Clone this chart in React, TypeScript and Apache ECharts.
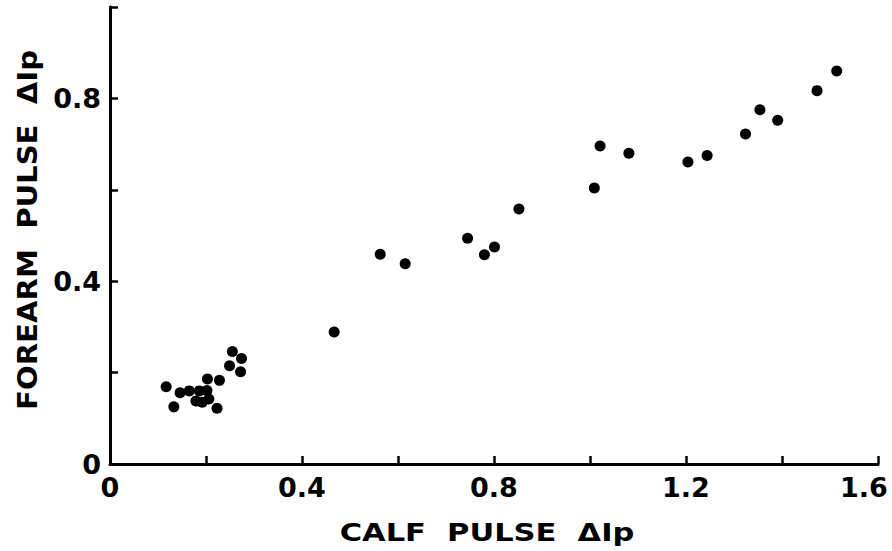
import React, { useEffect, useRef } from "react";
import * as echarts from "echarts";

// Calf pulse ΔIp (x) vs forearm pulse ΔIp (y)
const calfPulse: number[] = [
  0.117, 0.133, 0.146, 0.165, 0.179, 0.186, 0.192, 0.202, 0.203, 0.206,
  0.223, 0.228, 0.249, 0.255, 0.272, 0.274,
  0.467, 0.563, 0.615, 0.745, 0.780, 0.801, 0.852, 1.009, 1.021, 1.081,
  1.204, 1.244, 1.324, 1.354, 1.391, 1.473, 1.514,
];
const forearmPulse: number[] = [
  0.169, 0.125, 0.156, 0.160, 0.138, 0.160, 0.135, 0.161, 0.186, 0.142,
  0.122, 0.183, 0.215, 0.246, 0.202, 0.231,
  0.289, 0.459, 0.438, 0.494, 0.458, 0.475, 0.558, 0.604, 0.696, 0.680,
  0.661, 0.675, 0.722, 0.775, 0.752, 0.817, 0.860,
];

const xTickLabels: string[] = ["0", "0.4", "0.8", "1.2", "1.6"];
const yTickLabels: string[] = ["0", "0.4", "0.8"];
const xTitle = "CALF  PULSE  ΔIp";
const yTitle = "FOREARM  PULSE  ΔIp";

const FONT = "'DejaVu Sans', sans-serif";
const LABEL_SIZE = 27;

function fmt(labels: string[], edgeLabel?: string) {
  return (v: number) => {
    const s = Math.abs(v) < 1e-9 ? "0" : v.toFixed(1);
    if (!labels.includes(s)) return "";
    return s === edgeLabel ? `{edge|${s}}` : s;
  };
}

export default function App() {
  const ref = useRef<HTMLDivElement>(null);
  useEffect(() => {
    if (!ref.current) return;
    const chart = echarts.init(ref.current, undefined, { renderer: "svg" });
    const points = calfPulse.map((x, i) => [x, forearmPulse[i]]);
    const labelFont = {
      color: "#000",
      fontFamily: FONT,
      fontWeight: "bold" as const,
      fontSize: LABEL_SIZE,
    };
    const axisCommon = {
      type: "value" as const,
      axisLine: { show: true, lineStyle: { color: "#000", width: 3 } },
      axisTick: { show: true, inside: true, length: 8, lineStyle: { color: "#000", width: 2.5 } },
      splitLine: { show: false },
      axisLabel: {
        ...labelFont,
        showMinLabel: true,
        showMaxLabel: true,
        hideOverlap: false,
      },
    };
    chart.setOption({
      animation: false,
      backgroundColor: "#fff",
      grid: {
        left: 110,
        right: 14,
        top: 7,
        bottom: 87,
        containLabel: false,
        outerBoundsMode: "none",
      },
      xAxis: {
        ...axisCommon,
        min: 0,
        max: 1.6,
        interval: 0.2,
        axisLabel: {
          ...axisCommon.axisLabel,
          margin: 10,
          formatter: fmt(xTickLabels, "1.6"),
          rich: { edge: { ...labelFont, padding: [0, 28, 0, 0] } },
        },
      },
      yAxis: {
        ...axisCommon,
        min: 0,
        max: 1.0,
        interval: 0.2,
        axisLabel: { ...axisCommon.axisLabel, margin: 9, formatter: fmt(yTickLabels) },
      },
      series: [
        {
          type: "scatter",
          data: points,
          symbol: "circle",
          symbolSize: 11,
          itemStyle: { color: "#000", opacity: 1 },
        },
      ],
      graphic: [
        {
          type: "text",
          x: 487,
          y: 533,
          scaleX: 1.27,
          style: {
            text: xTitle,
            fontFamily: FONT,
            fontWeight: "bold",
            fontSize: 24,
            fill: "#000",
            align: "center",
            verticalAlign: "middle",
            textAlign: "center",
            textVerticalAlign: "middle",
          },
        },
        {
          type: "text",
          x: 28,
          y: 230,
          rotation: Math.PI / 2,
          scaleX: 1.12,
          style: {
            text: yTitle,
            fontFamily: FONT,
            fontWeight: "bold",
            fontSize: 26,
            fill: "#000",
            align: "center",
            verticalAlign: "middle",
            textAlign: "center",
            textVerticalAlign: "middle",
          },
        },
      ],
    });
    return () => chart.dispose();
  }, []);
  return <div ref={ref} style={{ width: 892, height: 551, position: "absolute", left: 0, top: 0 }} />;
}
